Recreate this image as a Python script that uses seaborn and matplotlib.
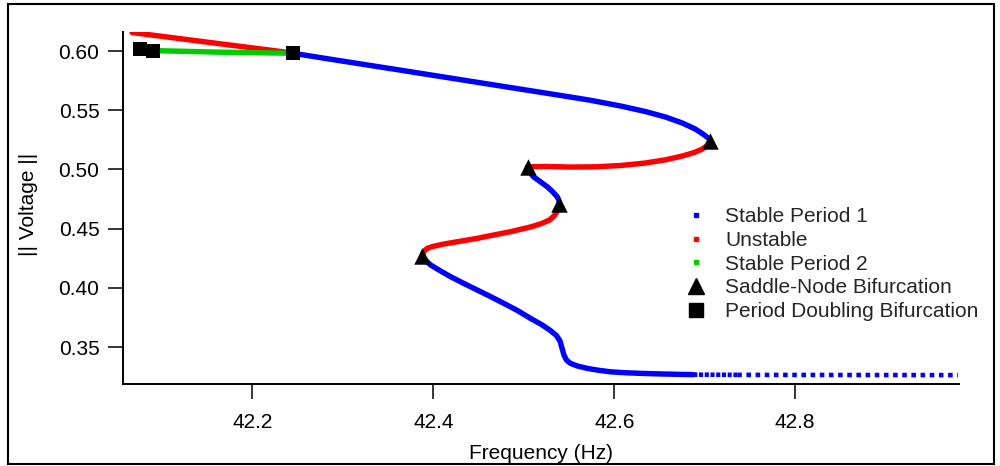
import numpy as np
import pandas as pd
import matplotlib
matplotlib.use("Agg")
import matplotlib.pyplot as plt
from matplotlib.lines import Line2D
from matplotlib.patches import Rectangle
import seaborn as sns

# Branches of the frequency-response curve (frequency in Hz, voltage norm)
red_top_f = [42.067, 42.155, 42.2444]
red_top_v = [0.6156, 0.6070, 0.5983]

green_f = [42.0758, 42.0979, 42.1652, 42.2447]
green_v = [0.6010, 0.6002, 0.5990, 0.5981]

blue_upper_f = [42.2447, 42.2977, 42.3639, 42.4301, 42.4964, 42.5405, 42.5736, 42.6068,
                42.6343, 42.6564, 42.6752, 42.6895, 42.6995, 42.7050, 42.7061]
blue_upper_v = [0.5981, 0.5917, 0.5838, 0.5758, 0.5678, 0.5625, 0.5584, 0.5536,
                0.5489, 0.5443, 0.5392, 0.5341, 0.5291, 0.5257, 0.5240]

red_mid_f = [42.7061, 42.7028, 42.6973, 42.6884, 42.6752, 42.6564, 42.6343, 42.6068,
             42.5792, 42.5516, 42.5240, 42.5041]
red_mid_v = [0.5240, 0.5202, 0.5172, 0.5143, 0.5113, 0.5081, 0.5054, 0.5033,
             0.5022, 0.5020, 0.5025, 0.5022]

blue_mid_f = [42.5041, 42.5069, 42.5107, 42.5179, 42.5258, 42.5317, 42.5369, 42.5389, 42.5394]
blue_mid_v = [0.5020, 0.4974, 0.4938, 0.4898, 0.4854, 0.4813, 0.4769, 0.4737, 0.4708]

red_low_f = [42.5394, 42.5378, 42.5339, 42.5284, 42.5196, 42.5074, 42.4853, 42.4633,
             42.4486, 42.4301, 42.4117, 42.3992, 42.3934, 42.3893, 42.3879]
red_low_v = [0.4708, 0.4657, 0.4611, 0.4573, 0.4543, 0.4514, 0.4474, 0.4441,
             0.4418, 0.4394, 0.4370, 0.4349, 0.4334, 0.4307, 0.4273]

blue_low_f = [42.3879, 42.3915, 42.3970, 42.4081, 42.4191, 42.4335, 42.4486, 42.4633,
              42.4779, 42.4931, 42.5074, 42.5196, 42.5295, 42.5361, 42.5400, 42.5422,
              42.5444, 42.5472, 42.5516, 42.5593, 42.5700, 42.5825, 42.5957, 42.6123,
              42.6321, 42.6564, 42.6873]
blue_low_v = [0.4273, 0.4231, 0.4193, 0.4142, 0.4094, 0.4038, 0.3981, 0.3926,
              0.3869, 0.3808, 0.3742, 0.3690, 0.3639, 0.3597, 0.3551, 0.3492,
              0.3432, 0.3390, 0.3362, 0.3340, 0.3320, 0.3304, 0.3291, 0.3283,
              0.3277, 0.3272, 0.3267]

tail_dense_f = [42.6873, 42.7359]
tail_dense_v = [0.3267, 0.3265]
tail_sparse_f = [42.7359, 42.9800]
tail_sparse_v = [0.3265, 0.3263]

sn_f = [42.7061, 42.5041, 42.5394, 42.3879]
sn_v = [0.5240, 0.5020, 0.4708, 0.4273]
pd_f = [42.0758, 42.0900, 42.2447]
pd_v = [0.6017, 0.6000, 0.5981]

x_ticks = [42.2, 42.4, 42.6, 42.8]
y_ticks = [0.35, 0.40, 0.45, 0.50, 0.55, 0.60]

legend_labels = ["Stable Period 1", "Unstable", "Stable Period 2",
                 "Saddle-Node Bifurcation", "Period Doubling Bifurcation"]

BLUE, RED, GREEN = "#0000ff", "#ff0000", "#00cc00"
FS = 15

sns.set_theme(style="ticks")
plt.rcParams["font.family"] = ["Liberation Sans", "DejaVu Sans"]

fig = plt.figure(figsize=(10, 4.66), dpi=100)
ax = fig.add_axes([0.123, 1 - 384 / 466, 0.959 - 0.123, (384 - 31.7) / 466])

LW = 3.9

def branch(f, v, color, **kw):
    df = pd.DataFrame({"f": f, "v": v})
    sns.lineplot(data=df, x="f", y="v", sort=False, estimator=None, color=color,
                 linewidth=kw.pop("lw", LW), ax=ax, **kw)

solid = dict(solid_joinstyle="round", solid_capstyle="round")
branch(red_top_f, red_top_v, RED, **solid)
branch(green_f, green_v, GREEN, **solid)
branch(blue_upper_f, blue_upper_v, BLUE, **solid)
branch(red_mid_f, red_mid_v, RED, **solid)
branch(blue_mid_f, blue_mid_v, BLUE, **solid)
branch(red_low_f, red_low_v, RED, **solid)
branch(blue_low_f, blue_low_v, BLUE, **solid)
branch(tail_dense_f, tail_dense_v, BLUE, lw=3.3, dashes=(0.9, 0.35))
branch(tail_sparse_f, tail_sparse_v, BLUE, lw=3.3, dashes=(1, 1))
for ln in ax.get_lines()[-2:]:
    ln.set_dash_capstyle("butt")
    ln.set_clip_on(False)

sns.scatterplot(x=sn_f, y=sn_v, marker="^", s=140, color="black",
                edgecolor="black", linewidth=0, ax=ax, zorder=5)
sns.scatterplot(x=pd_f, y=pd_v, marker="s", s=100, color="black",
                edgecolor="black", linewidth=0, ax=ax, zorder=5)

ax.set_xlim(42.057, 42.981)
ax.set_ylim(0.3188, 0.6163)
ax.set_xticks(x_ticks)
ax.set_xticklabels([f"{t:.1f}" for t in x_ticks])
ax.set_yticks(y_ticks)
ax.set_yticklabels([f"{t:.2f}" for t in y_ticks])
ax.tick_params(axis="both", labelsize=FS, length=11, width=1.1, color="black",
               labelcolor="black")
ax.tick_params(axis="x", pad=10)
ax.tick_params(axis="y", pad=6)
for side in ("top", "right"):
    ax.spines[side].set_visible(False)
for side in ("left", "bottom"):
    ax.spines[side].set_linewidth(1.4)
    ax.spines[side].set_color("black")
ax.set_facecolor("white")

ax.set_xlabel("Frequency (Hz)", fontsize=FS, color="black")
ax.set_ylabel("|| Voltage ||", fontsize=FS, color="black")
ax.xaxis.set_label_coords(0.5, -0.1715)
ax.yaxis.set_label_coords(-0.102, 0.51)

handles = [
    Line2D([], [], color=BLUE, marker="s", linestyle="none", markersize=3),
    Line2D([], [], color=RED, marker="s", linestyle="none", markersize=3),
    Line2D([], [], color=GREEN, marker="s", linestyle="none", markersize=3),
    Line2D([], [], color="black", marker="^", linestyle="none", markersize=11),
    Line2D([], [], color="black", marker="s", linestyle="none", markersize=10),
]
fig.legend(handles, legend_labels, loc="upper left",
           bbox_to_anchor=(0.6856, 1 - 207 / 466), bbox_transform=fig.transFigure,
           frameon=False, fontsize=FS, handlelength=1.0, handletextpad=0.9,
           labelspacing=0.23, borderpad=0, borderaxespad=0)

fig.patches.append(Rectangle((8 / 1000, 1 - 464 / 466), 986 / 1000, 460 / 466,
                             transform=fig.transFigure, fill=False,
                             edgecolor="black", linewidth=1.5))

fig.savefig("out.png", dpi=100, facecolor="white")
